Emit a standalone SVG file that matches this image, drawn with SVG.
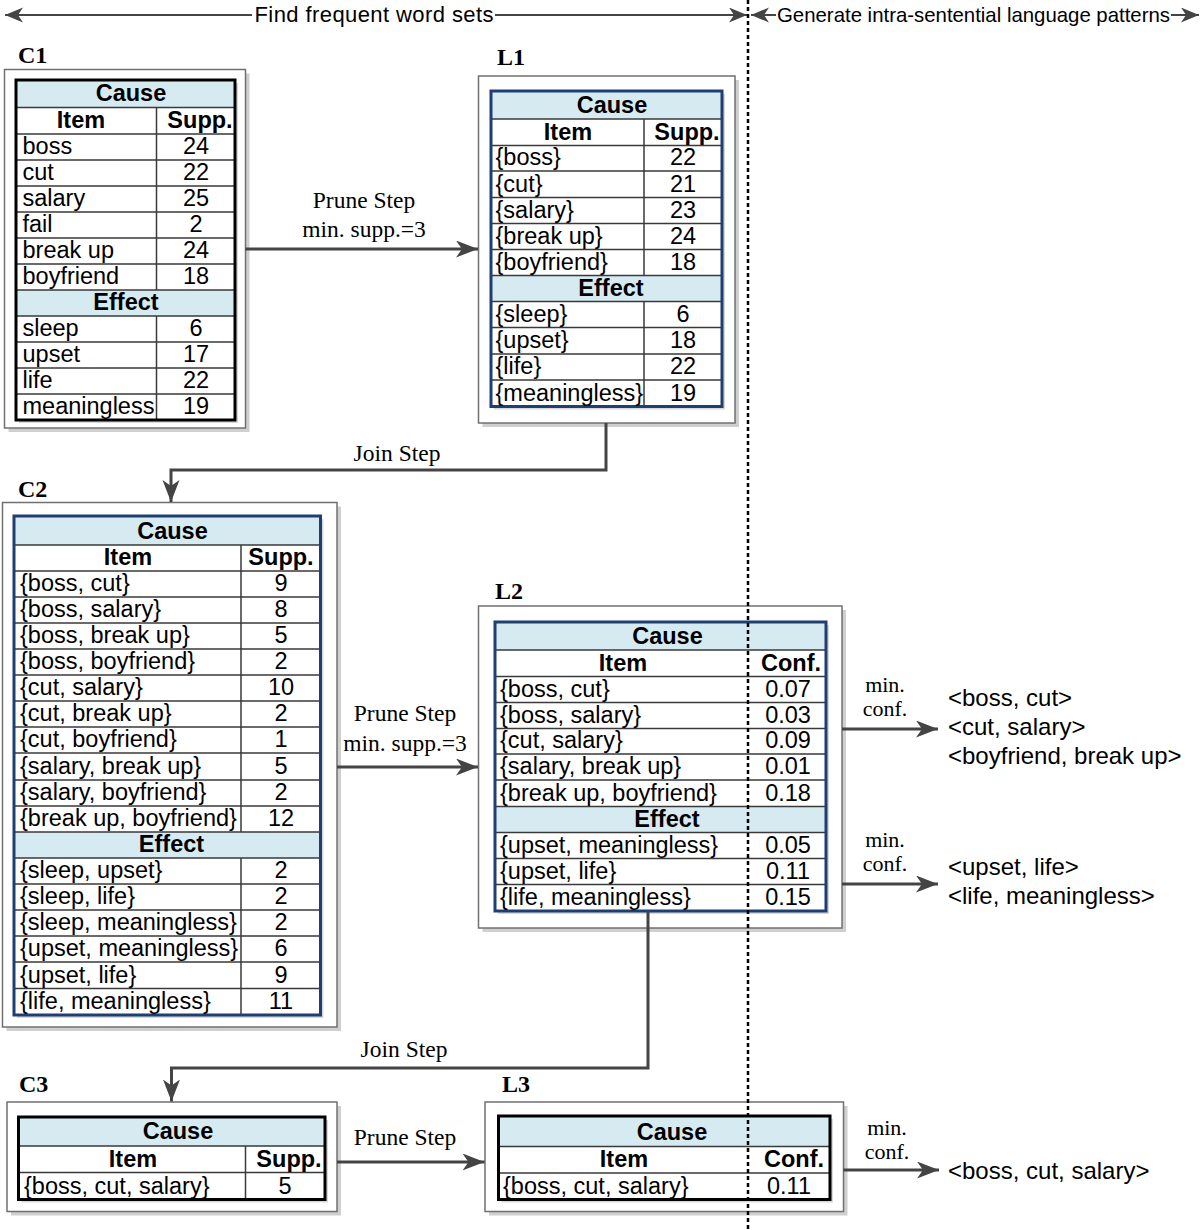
<svg xmlns="http://www.w3.org/2000/svg" width="1200" height="1230" viewBox="0 0 1200 1230">
<defs>
<style>
.t{font-family:"Liberation Sans",Arial,Helvetica,sans-serif;font-size:23.5px;fill:#000}
.c{text-anchor:middle}
.b{font-weight:bold}
.h1{font-size:22px}
.h2{font-size:20.4px}
.p{font-size:24px}
.s{font-family:"Liberation Serif","Times New Roman",serif;font-size:23.5px;fill:#000}
.m{font-size:22px}
.lbl{font-family:"Liberation Serif","Times New Roman",serif;font-size:24px;font-weight:bold;fill:#000}
.box{fill:#fff;stroke:#707070;stroke-width:1.5}
.sh{fill:#cfcfcf}
.tsh{fill:#d8d8d8}
.hdr{fill:#d6eaf2}
.tk{fill:none;stroke:#000;stroke-width:3}
.tb{fill:none;stroke:#1f3e72;stroke-width:3}
.g{stroke:#3a3a3a;stroke-width:1.5;fill:none}
.con{fill:none;stroke:#444;stroke-width:3}
.hl{fill:none;stroke:#444;stroke-width:2}
</style>
<marker id="ah" markerUnits="userSpaceOnUse" markerWidth="24" markerHeight="18" refX="22" refY="8.5" orient="auto">
<path d="M0,0 L22,8.5 L0,17 L6,8.5 z" fill="#444"/>
</marker>
<marker id="hh" markerUnits="userSpaceOnUse" markerWidth="20" markerHeight="16" refX="18" refY="7.5" orient="auto">
<path d="M0,0 L18,7.5 L0,15 L5,7.5 z" fill="#444"/>
</marker>
</defs>
<rect width="1200" height="1230" fill="#fff"/>

<g id="header">
<line class="hl" x1="252" y1="15" x2="5" y2="15" marker-end="url(#hh)"/>
<line class="hl" x1="495" y1="15" x2="747" y2="15" marker-end="url(#hh)"/>
<text class="t h1" x="254.5" y="22" textLength="239" lengthAdjust="spacing">Find frequent word sets</text>
<line class="hl" x1="776" y1="15" x2="751" y2="15" marker-end="url(#hh)"/>
<line class="hl" x1="1171" y1="15" x2="1199" y2="15" marker-end="url(#hh)"/>
<text class="t h2" x="777" y="22" textLength="393" lengthAdjust="spacing">Generate intra-sentential language patterns</text>
</g>

<g id="C1">
<text class="lbl" x="18" y="63">C1</text>
<rect class="sh" x="8.5" y="73.5" width="241" height="358.5"/>
<rect class="box" x="4.5" y="69.5" width="241" height="358.5"/>
<rect class="tsh" x="19" y="83" width="219" height="340"/>
<rect fill="#fff" x="16" y="80" width="219" height="340"/>
<rect class="hdr" x="16" y="80" width="219" height="27.5"/>
<rect class="hdr" x="16" y="290" width="219" height="26"/>
<path class="g" d="M16,107.5H235M16,134H235M16,160H235M16,186H235M16,212H235M16,238H235M16,264H235M16,290H235M16,316H235M16,342H235M16,368H235M16,394H235M156.5,107.5V290M156.5,316V420"/>
<rect class="tk" x="16" y="80" width="219" height="340"/>
<g class="t">
<text class="c b" x="131" y="101">Cause</text>
<text class="c b" x="81" y="127.5">Item</text>
<text class="c b" x="200" y="127.5">Supp.</text>
<text x="22.5" y="154">boss</text><text class="c" x="196" y="154">24</text>
<text x="22.5" y="180">cut</text><text class="c" x="196" y="180">22</text>
<text x="22.5" y="206">salary</text><text class="c" x="196" y="206">25</text>
<text x="22.5" y="232">fail</text><text class="c" x="196" y="232">2</text>
<text x="22.5" y="258">break up</text><text class="c" x="196" y="258">24</text>
<text x="22.5" y="284">boyfriend</text><text class="c" x="196" y="284">18</text>
<text class="c b" x="126" y="310">Effect</text>
<text x="22.5" y="336">sleep</text><text class="c" x="196" y="336">6</text>
<text x="22.5" y="362">upset</text><text class="c" x="196" y="362">17</text>
<text x="22.5" y="388">life</text><text class="c" x="196" y="388">22</text>
<text x="22.5" y="414">meaningless</text><text class="c" x="196" y="414">19</text>
</g>
</g>

<g id="L1">
<text class="lbl" x="497" y="65">L1</text>
<rect class="sh" x="482.5" y="80" width="256.5" height="347"/>
<rect class="box" x="478.5" y="76" width="256.5" height="347"/>
<rect class="tsh" x="494" y="94" width="231" height="315.5"/>
<rect fill="#fff" x="491" y="91" width="231" height="315.5"/>
<rect class="hdr" x="491" y="91" width="231" height="28"/>
<rect class="hdr" x="491" y="275.5" width="231" height="26"/>
<path class="g" d="M491,119H722M491,145.5H722M491,171H722M491,197.5H722M491,223.5H722M491,249.5H722M491,275.5H722M491,301.5H722M491,327.5H722M491,354H722M491,380H722M644,119V275.5M644,301.5V406.5"/>
<rect class="tb" x="491" y="91" width="231" height="315.5"/>
<g class="t">
<text class="c b" x="612" y="112.5">Cause</text>
<text class="c b" x="568" y="139.5">Item</text>
<text class="c b" x="687" y="139.5">Supp.</text>
<text x="495.5" y="165">{boss}</text><text class="c" x="683" y="165">22</text>
<text x="495.5" y="191.5">{cut}</text><text class="c" x="683" y="191.5">21</text>
<text x="495.5" y="217.5">{salary}</text><text class="c" x="683" y="217.5">23</text>
<text x="495.5" y="243.5">{break up}</text><text class="c" x="683" y="243.5">24</text>
<text x="495.5" y="269.5">{boyfriend}</text><text class="c" x="683" y="269.5">18</text>
<text class="c b" x="611" y="295.5">Effect</text>
<text x="495.5" y="321.5">{sleep}</text><text class="c" x="683" y="321.5">6</text>
<text x="495.5" y="348">{upset}</text><text class="c" x="683" y="348">18</text>
<text x="495.5" y="374">{life}</text><text class="c" x="683" y="374">22</text>
<text x="495.5" y="400.5">{meaningless}</text><text class="c" x="683" y="400.5">19</text>
</g>
</g>

<g id="C2">
<text class="lbl" x="18" y="497">C2</text>
<rect class="sh" x="6.5" y="506.5" width="334.5" height="524.5"/>
<rect class="box" x="2.5" y="502.5" width="334.5" height="524.5"/>
<rect class="tsh" x="17" y="519" width="306.5" height="499"/>
<rect fill="#fff" x="14" y="516" width="306.5" height="499"/>
<rect class="hdr" x="14" y="516" width="306.5" height="29"/>
<rect class="hdr" x="14" y="832" width="306.5" height="26"/>
<path class="g" d="M14,545H320.5M14,571H320.5M14,597H320.5M14,623H320.5M14,649H320.5M14,675H320.5M14,701H320.5M14,727H320.5M14,753H320.5M14,780H320.5M14,806H320.5M14,832H320.5M14,858H320.5M14,884H320.5M14,910H320.5M14,936H320.5M14,962H320.5M14,988.5H320.5M241,545V832M241,858V1015"/>
<rect class="tb" x="14" y="516" width="306.5" height="499"/>
<g class="t">
<text class="c b" x="172.5" y="539">Cause</text>
<text class="c b" x="128" y="565">Item</text>
<text class="c b" x="281" y="565">Supp.</text>
<text x="20" y="591">{boss, cut}</text><text class="c" x="281" y="591">9</text>
<text x="20" y="617">{boss, salary}</text><text class="c" x="281" y="617">8</text>
<text x="20" y="643">{boss, break up}</text><text class="c" x="281" y="643">5</text>
<text x="20" y="669">{boss, boyfriend}</text><text class="c" x="281" y="669">2</text>
<text x="20" y="695">{cut, salary}</text><text class="c" x="281" y="695">10</text>
<text x="20" y="721">{cut, break up}</text><text class="c" x="281" y="721">2</text>
<text x="20" y="747">{cut, boyfriend}</text><text class="c" x="281" y="747">1</text>
<text x="20" y="774">{salary, break up}</text><text class="c" x="281" y="774">5</text>
<text x="20" y="800">{salary, boyfriend}</text><text class="c" x="281" y="800">2</text>
<text x="20" y="826">{break up, boyfriend}</text><text class="c" x="281" y="826">12</text>
<text class="c b" x="171.5" y="852">Effect</text>
<text x="20" y="878">{sleep, upset}</text><text class="c" x="281" y="878">2</text>
<text x="20" y="904">{sleep, life}</text><text class="c" x="281" y="904">2</text>
<text x="20" y="930">{sleep, meaningless}</text><text class="c" x="281" y="930">2</text>
<text x="20" y="956">{upset, meaningless}</text><text class="c" x="281" y="956">6</text>
<text x="20" y="982.5">{upset, life}</text><text class="c" x="281" y="982.5">9</text>
<text x="20" y="1009">{life, meaningless}</text><text class="c" x="281" y="1009">11</text>
</g>
</g>

<g id="L2">
<text class="lbl" x="495" y="599">L2</text>
<rect class="sh" x="482.5" y="610" width="363.5" height="322"/>
<rect class="box" x="478.5" y="606" width="363.5" height="322"/>
<rect class="tsh" x="498" y="625" width="331" height="289"/>
<rect fill="#fff" x="495" y="622" width="331" height="289"/>
<rect class="hdr" x="495" y="622" width="331" height="28"/>
<rect class="hdr" x="495" y="806.5" width="331" height="26"/>
<path class="g" d="M495,650H826M495,676.5H826M495,702.5H826M495,728.5H826M495,754H826M495,780H826M495,806.5H826M495,832.5H826M495,858.5H826M495,884.5H826"/>
<rect class="tb" x="495" y="622" width="331" height="289"/>
<g class="t">
<text class="c b" x="667.5" y="643.5">Cause</text>
<text class="c b" x="623" y="670.5">Item</text>
<text class="c b" x="791" y="670.5">Conf.</text>
<text x="500" y="696.5">{boss, cut}</text><text class="c" x="788" y="696.5">0.07</text>
<text x="500" y="722.5">{boss, salary}</text><text class="c" x="788" y="722.5">0.03</text>
<text x="500" y="748">{cut, salary}</text><text class="c" x="788" y="748">0.09</text>
<text x="500" y="774">{salary, break up}</text><text class="c" x="788" y="774">0.01</text>
<text x="500" y="800.5">{break up, boyfriend}</text><text class="c" x="788" y="800.5">0.18</text>
<text class="c b" x="667" y="826.5">Effect</text>
<text x="500" y="852.5">{upset, meaningless}</text><text class="c" x="788" y="852.5">0.05</text>
<text x="500" y="878.5">{upset, life}</text><text class="c" x="788" y="878.5">0.11</text>
<text x="500" y="905">{life, meaningless}</text><text class="c" x="788" y="905">0.15</text>
</g>
</g>

<g id="C3">
<text class="lbl" x="19" y="1092">C3</text>
<rect class="sh" x="11" y="1106" width="330" height="109.5"/>
<rect class="box" x="7" y="1102" width="330" height="109.5"/>
<rect class="tsh" x="21.5" y="1120" width="306.5" height="82.5"/>
<rect fill="#fff" x="18.5" y="1117" width="306.5" height="82.5"/>
<rect class="hdr" x="18.5" y="1117" width="306.5" height="29"/>
<path class="g" d="M18.5,1146H325M18.5,1172.5H325M245.5,1146V1199.5"/>
<rect class="tk" x="18.5" y="1117" width="306.5" height="82.5"/>
<g class="t">
<text class="c b" x="178" y="1139">Cause</text>
<text class="c b" x="133" y="1166.5">Item</text>
<text class="c b" x="289" y="1166.5">Supp.</text>
<text x="24" y="1193.5">{boss, cut, salary}</text><text class="c" x="285" y="1193.5">5</text>
</g>
</g>

<g id="L3">
<text class="lbl" x="502" y="1092">L3</text>
<rect class="sh" x="489" y="1106" width="358.5" height="109.5"/>
<rect class="box" x="485" y="1102" width="358.5" height="109.5"/>
<rect class="tsh" x="501.5" y="1119" width="331.5" height="83.5"/>
<rect fill="#fff" x="498.5" y="1116" width="331.5" height="83.5"/>
<rect class="hdr" x="498.5" y="1116" width="331.5" height="30.5"/>
<path class="g" d="M498.5,1146.5H830M498.5,1173H830"/>
<rect class="tk" x="498.5" y="1116" width="331.5" height="83.5"/>
<g class="t">
<text class="c b" x="672" y="1139.5">Cause</text>
<text class="c b" x="624" y="1167">Item</text>
<text class="c b" x="794" y="1167">Conf.</text>
<text x="503" y="1193.5">{boss, cut, salary}</text><text class="c" x="789" y="1193.5">0.11</text>
</g>
</g>

<g id="patterns">
<g class="t p">
<text x="948" y="706">&lt;boss, cut&gt;</text>
<text x="948" y="735">&lt;cut, salary&gt;</text>
<text x="948" y="764">&lt;boyfriend, break up&gt;</text>
<text x="948" y="875">&lt;upset, life&gt;</text>
<text x="948" y="904">&lt;life, meaningless&gt;</text>
<text x="948" y="1179">&lt;boss, cut, salary&gt;</text>
</g>
</g>

<g id="connectors">
<line class="con" x1="245.5" y1="249" x2="478" y2="249" marker-end="url(#ah)"/>
<text class="s c" x="364" y="208">Prune Step</text>
<text class="s c" x="364" y="237">min. supp.=3</text>
<path class="con" d="M606,423V470H171V502" marker-end="url(#ah)"/>
<text class="s c" x="397" y="461">Join Step</text>
<line class="con" x1="337" y1="767" x2="478" y2="767" marker-end="url(#ah)"/>
<text class="s c" x="405" y="721">Prune Step</text>
<text class="s c" x="405" y="751">min. supp.=3</text>
<path class="con" d="M648,911V1068H171.5V1101.5" marker-end="url(#ah)"/>
<text class="s c" x="404" y="1057">Join Step</text>
<line class="con" x1="337" y1="1162" x2="484.5" y2="1162" marker-end="url(#ah)"/>
<text class="s c" x="405" y="1145">Prune Step</text>
<line class="con" x1="842" y1="729" x2="938" y2="729" marker-end="url(#ah)"/>
<text class="s c m" x="885" y="692">min.</text>
<text class="s c m" x="885" y="716">conf.</text>
<line class="con" x1="842" y1="884" x2="938" y2="884" marker-end="url(#ah)"/>
<text class="s c m" x="885" y="847">min.</text>
<text class="s c m" x="885" y="871">conf.</text>
<line class="con" x1="843.5" y1="1170" x2="939" y2="1170" marker-end="url(#ah)"/>
<text class="s c m" x="887" y="1135">min.</text>
<text class="s c m" x="887" y="1159">conf.</text>
</g>

<line id="divider" x1="748" y1="0" x2="748" y2="1230" stroke="#000" stroke-width="2.5" stroke-dasharray="4,3"/>
</svg>
